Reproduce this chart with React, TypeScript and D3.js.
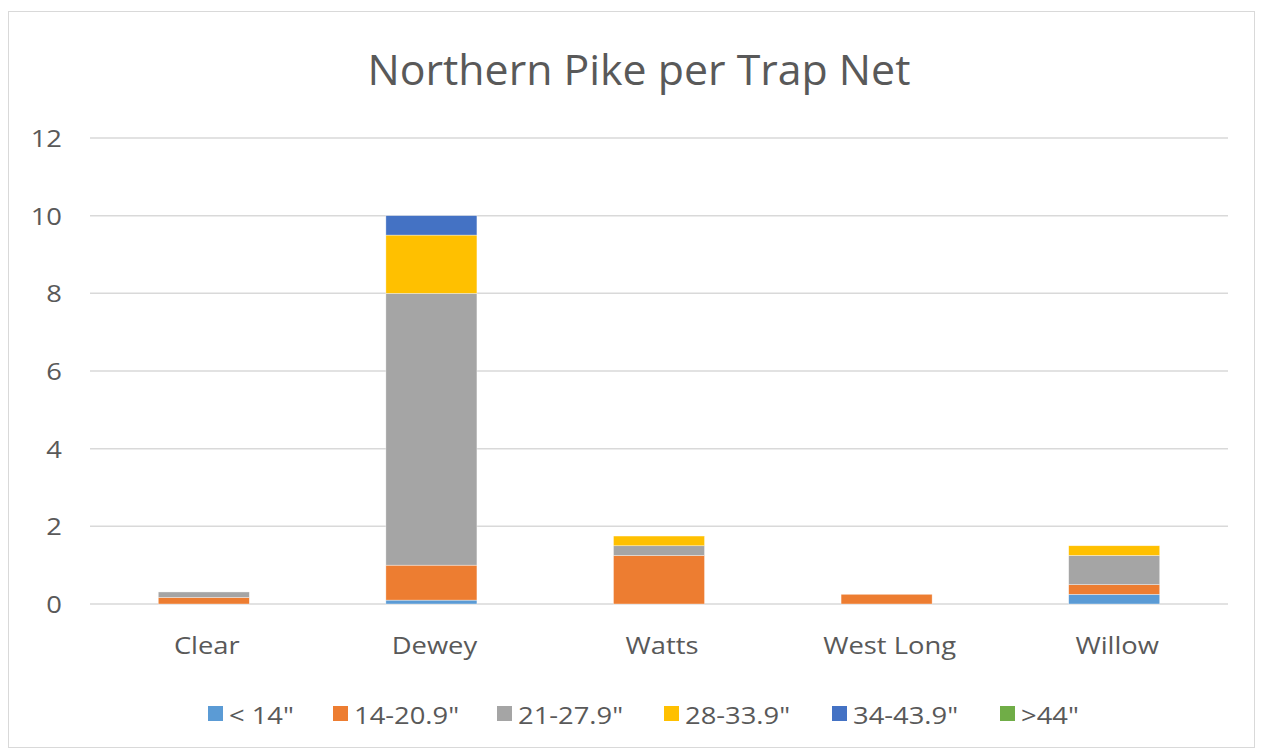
import { useEffect, useRef } from 'react';
import * as d3 from 'd3';

const lakes = ['Clear', 'Dewey', 'Watts', 'West Long', 'Willow'];
const sizeClasses = ['< 14"', '14-20.9"', '21-27.9"', '28-33.9"', '34-43.9"', '>44"'];
const under14 = [0, 0.1, 0, 0, 0.25];
const from14 = [0.17, 0.9, 1.25, 0.25, 0.25];
const from21 = [0.14, 7.0, 0.25, 0, 0.75];
const from28 = [0, 1.5, 0.25, 0, 0.25];
const from34 = [0, 0.5, 0, 0, 0];
const over44 = [0, 0, 0, 0, 0];
const yTicks = [0, 2, 4, 6, 8, 10, 12];
const colors = ['#5B9BD5', '#ED7D31', '#A5A5A5', '#FFC000', '#4472C4', '#70AD47'];

const W = 1263;
const H = 755;
const font = '"Open Sans", Lato, sans-serif';
const stretch = 1.14; // labels in the original are a bit wider than tall

export default function App() {
  const svgRef = useRef<SVGSVGElement>(null);

  useEffect(() => {
    if (!svgRef.current) return;
    const svg = d3.select(svgRef.current);
    svg.selectAll('*').remove();

    const margin = { top: 138, right: 35, bottom: 151, left: 90 };
    const innerW = W - margin.left - margin.right;
    const innerH = H - margin.top - margin.bottom;

    // chart frame
    svg.append('rect')
      .attr('x', 8.5).attr('y', 11.5)
      .attr('width', W - 17).attr('height', H - 19)
      .attr('fill', '#fff')
      .attr('stroke', '#D9D9D9');

    svg.append('text')
      .attr('transform', `translate(639,85) scale(1.02,1)`)
      .attr('text-anchor', 'middle')
      .style('font-family', font)
      .style('font-size', '42px')
      .style('fill', '#595959')
      .text('Northern Pike per Trap Net');

    const g = svg.append('g').attr('transform', `translate(${margin.left},${margin.top})`);

    const x = d3.scaleBand().domain(lakes).range([0, innerW]).paddingInner(0.6).paddingOuter(0.3);
    const y = d3.scaleLinear().domain([0, 12]).range([innerH, 0]);

    g.selectAll('.grid')
      .data(yTicks)
      .join('line')
      .attr('x1', 0).attr('x2', innerW)
      .attr('y1', d => y(d)).attr('y2', d => y(d))
      .attr('stroke', '#D9D9D9')
      .attr('stroke-width', 1.5);

    g.selectAll('.ytick')
      .data(yTicks)
      .join('text')
      .attr('transform', d => `translate(-28,${y(d) + 9}) scale(${stretch},1)`)
      .attr('text-anchor', 'end')
      .style('font-family', font)
      .style('font-size', '24px')
      .style('fill', '#595959')
      .text(d => d);

    const rows = lakes.map((lake, i) => ({
      lake,
      s0: under14[i], s1: from14[i], s2: from21[i], s3: from28[i], s4: from34[i], s5: over44[i],
    }));
    const keys = ['s0', 's1', 's2', 's3', 's4', 's5'];
    const stacked = d3.stack<any>().keys(keys)(rows);

    g.selectAll('.layer')
      .data(stacked)
      .join('g')
      .attr('fill', (_, i) => colors[i])
      .selectAll('rect')
      .data(d => d.filter(p => p[1] - p[0] > 0))
      .join('rect')
      .attr('x', d => x(d.data.lake)!)
      .attr('width', x.bandwidth())
      .attr('y', d => y(d[1]))
      .attr('height', d => y(d[0]) - y(d[1]))
      .attr('stroke', '#fff')
      .attr('stroke-width', 0.6)
      .attr('stroke-opacity', 0.6);

    g.selectAll('.xlabel')
      .data(lakes)
      .join('text')
      .attr('transform', d => `translate(${x(d)! + x.bandwidth() / 2 + 3},${innerH + 50}) scale(${stretch},1)`)
      .attr('text-anchor', 'middle')
      .style('font-family', font)
      .style('font-size', '24px')
      .style('fill', '#595959')
      .text(d => d);

    const legendX = [208, 333, 497, 664, 832, 1000];
    const legend = svg.append('g');
    sizeClasses.forEach((label, i) => {
      const item = legend.append('g').attr('transform', `translate(${legendX[i]},706)`);
      item.append('rect')
        .attr('width', 15).attr('height', 15)
        .attr('fill', colors[i]);
      item.append('text')
        .attr('transform', `translate(21,18) scale(${stretch},1)`)
        .style('font-family', font)
        .style('font-size', '24px')
        .style('fill', '#595959')
        .text(label);
    });
  }, []);

  return (
    <div style={{ position: 'absolute', left: 0, top: 0 }}>
      <svg ref={svgRef} width={W} height={H} style={{ display: 'block' }}></svg>
    </div>
  );
}
